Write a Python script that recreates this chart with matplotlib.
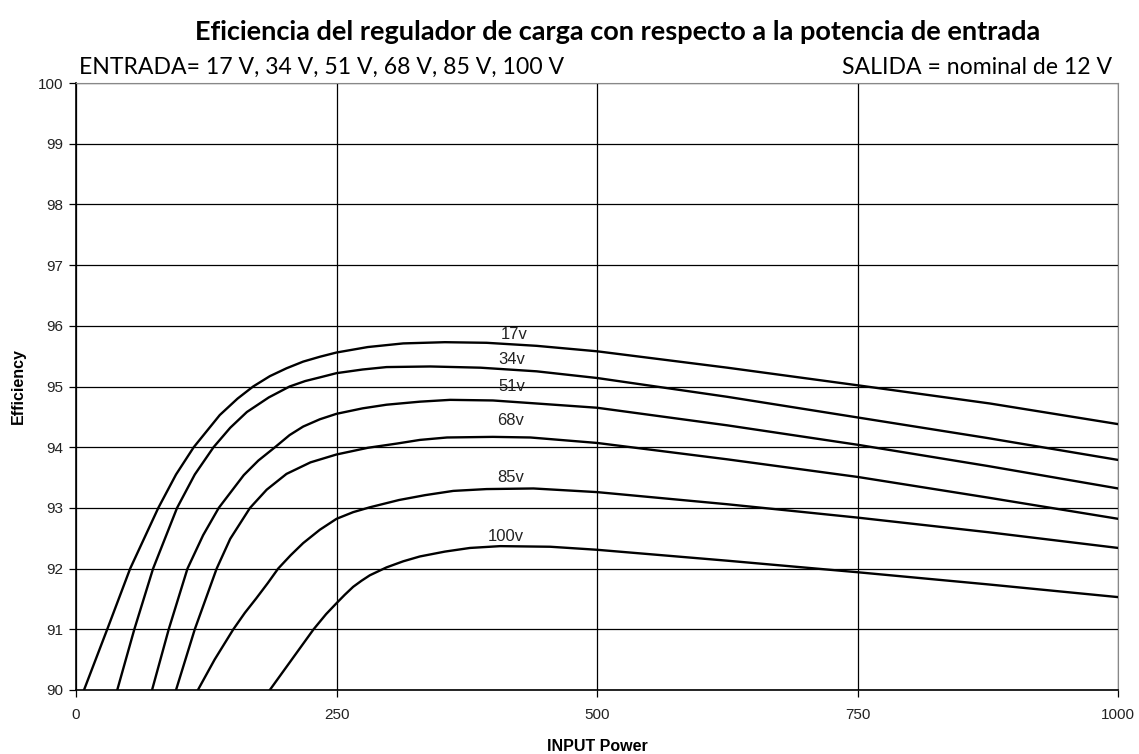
import numpy as np
import matplotlib
matplotlib.use('Agg')
import matplotlib.pyplot as plt

# Curve readings (input power W, efficiency %)
x17 = [7.7, 30, 52, 79, 96, 113, 138, 155, 170, 186, 202, 218, 234, 250, 280, 314, 354, 394, 442, 500, 625, 750, 877, 1000]
y17 = [90, 91, 92, 93, 93.55, 94, 94.53, 94.8, 95.0, 95.17, 95.30, 95.41, 95.49, 95.56, 95.65, 95.71, 95.73, 95.72, 95.67, 95.58, 95.31, 95.02, 94.72, 94.38]

x34 = [39.6, 56, 74, 97, 114, 132, 148, 164, 185, 205, 220, 234, 250, 275, 298, 340, 388, 442, 500, 625, 750, 875, 1000]
y34 = [90, 91, 92, 93, 93.55, 94, 94.32, 94.58, 94.82, 95.0, 95.09, 95.15, 95.22, 95.28, 95.32, 95.33, 95.31, 95.25, 95.14, 94.83, 94.49, 94.15, 93.79]

x51 = [73, 89, 107, 122, 137, 161, 175, 191, 205, 218, 234, 250, 275, 298, 330, 359, 400, 442, 500, 625, 750, 875, 1000]
y51 = [90, 91, 92, 92.55, 93, 93.54, 93.78, 94, 94.2, 94.34, 94.46, 94.55, 94.64, 94.70, 94.75, 94.78, 94.77, 94.72, 94.65, 94.36, 94.04, 93.69, 93.32]

x68 = [96, 114, 135, 148, 167, 183, 202, 225, 250, 280, 308, 330, 356, 400, 436, 500, 625, 750, 875, 1000]
y68 = [90, 91, 92, 92.49, 93, 93.3, 93.56, 93.75, 93.88, 93.99, 94.06, 94.12, 94.16, 94.17, 94.16, 94.07, 93.80, 93.51, 93.17, 92.82]

x85 = [117, 133, 151, 162, 173, 184, 194, 206, 218, 234, 250, 266, 282, 310, 335, 362, 394, 439, 500, 625, 750, 875, 1000]
y85 = [90, 90.5, 91, 91.27, 91.51, 91.76, 92, 92.22, 92.42, 92.64, 92.82, 92.93, 93.01, 93.13, 93.21, 93.28, 93.31, 93.32, 93.26, 93.06, 92.84, 92.60, 92.34]

x100 = [186, 207, 228, 240, 250, 258, 266, 274, 282, 298, 314, 330, 354, 378, 407, 455, 500, 625, 750, 875, 1000]
y100 = [90, 90.5, 91, 91.25, 91.43, 91.57, 91.70, 91.80, 91.89, 92.02, 92.12, 92.20, 92.28, 92.34, 92.37, 92.36, 92.31, 92.13, 91.94, 91.74, 91.53]

curve_names = ['17v', '34v', '51v', '68v', '85v', '100v']
label_x = [420, 418, 418, 417, 417, 412]
label_y = [95.86, 95.44, 95.0, 94.44, 93.5, 92.53]

x_ticks = [0, 250, 500, 750, 1000]
y_ticks = [90, 91, 92, 93, 94, 95, 96, 97, 98, 99, 100]

title = 'Eficiencia del regulador de carga con respecto a la potencia de entrada'
sub_left = 'ENTRADA= 17 V, 34 V, 51 V, 68 V, 85 V, 100 V'
sub_right = 'SALIDA = nominal de 12 V'

fig = plt.figure(figsize=(11.39, 7.54), dpi=100)
ax = fig.add_axes([0.0667, 0.0849, 0.915, 0.805])

series = [(x17, y17), (x34, y34), (x51, y51), (x68, y68), (x85, y85), (x100, y100)]
for (xs, ys), name, lx, ly in zip(series, curve_names, label_x, label_y):
    ax.plot(xs, ys, color='black', lw=1.7, solid_joinstyle='round', zorder=3)
    ax.text(lx, ly, name, ha='center', va='center', fontsize=12,
            family='Liberation Sans', color='#222222', zorder=4)

ax.set_xlim(0, 1000)
ax.set_ylim(90, 100)
ax.set_xticks(x_ticks)
ax.set_yticks(y_ticks)
ax.grid(True, color='black', lw=0.9)
ax.set_axisbelow(True)
ax.tick_params(direction='out', length=5, width=0.9, color='black',
               labelsize=11, pad=4)
for lab in ax.get_xticklabels() + ax.get_yticklabels():
    lab.set_family('Liberation Sans')
    lab.set_color('#222222')
ax.tick_params(axis='x', pad=8)

ax.spines['left'].set_color('black')
ax.spines['bottom'].set_color('black')
ax.spines['left'].set_linewidth(1.2)
ax.spines['bottom'].set_linewidth(1.2)
ax.spines['top'].set_color('#888888')
ax.spines['right'].set_color('#888888')

ax.set_xlabel('INPUT Power', fontsize=11.5, fontweight='bold',
              family='Liberation Sans', labelpad=12)
ax.set_ylabel('Efficiency', fontsize=11.5, fontweight='bold',
              family='Liberation Sans', labelpad=9)

fig.text(0.542, 0.958, title, ha='center', va='center', fontsize=19.5,
         fontweight='bold', family='Lato')
fig.text(0.069, 0.911, sub_left, ha='left', va='center', fontsize=16.6,
         family='Lato')
fig.text(0.976, 0.911, sub_right, ha='right', va='center', fontsize=16.6,
         family='Lato')

fig.savefig('out.png', dpi=100)
